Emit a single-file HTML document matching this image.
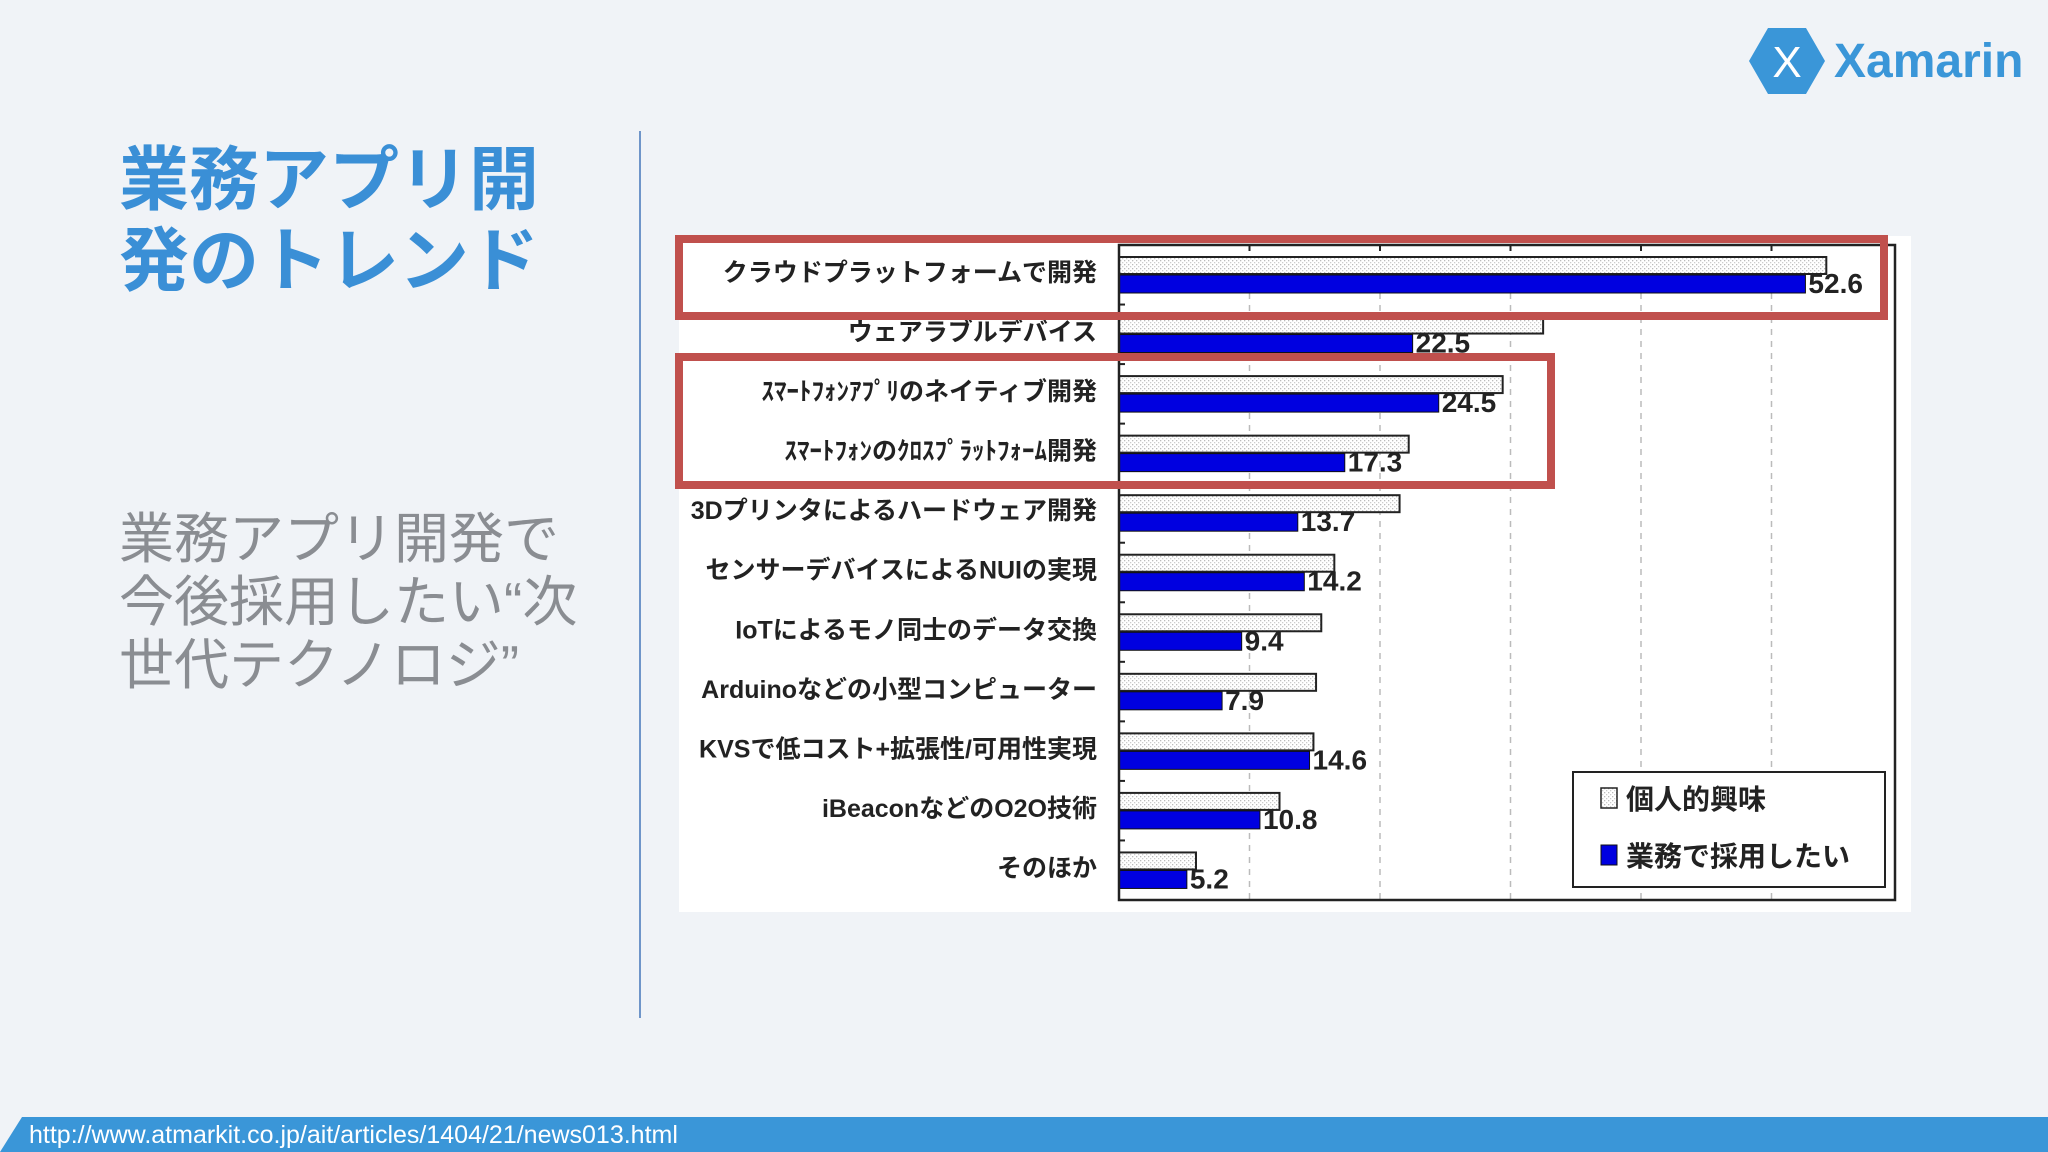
<!DOCTYPE html>
<html><head><meta charset="utf-8"><style>
html,body{margin:0;padding:0;background:#f0f3f7;}
svg{display:block;font-family:"Liberation Sans","Noto Sans CJK JP",sans-serif;}
</style></head><body>
<svg id="s" width="2048" height="1152" viewBox="0 0 2048 1152" xmlns="http://www.w3.org/2000/svg">
<defs>
<pattern id="dots" width="4" height="4" patternUnits="userSpaceOnUse"><rect width="4" height="4" fill="#fff"/><rect x="0" y="0" width="1.3" height="1.3" fill="#bbb"/><rect x="2" y="2" width="1.3" height="1.3" fill="#ccc"/></pattern>
</defs>
<rect width="2048" height="1152" fill="#f0f3f7"/>
<g fill="#3a8fd6" font-weight="bold" font-size="70">
<text x="119" y="204">業務アプリ開</text>
<text x="119" y="285">発のトレンド</text>
</g>
<g fill="#8a8d92" font-size="55">
<text x="119" y="558">業務アプリ開発で</text>
<text x="119" y="621">今後採用したい“次</text>
<text x="119" y="684">世代テクノロジ”</text>
</g>
<line x1="640" y1="131" x2="640" y2="1018" stroke="#6f95c9" stroke-width="2"/>
<g>
<polygon points="1768,28 1806,28 1825,61 1806,94 1768,94 1749,61" fill="#3a96d8"/>
<text x="1787" y="77" text-anchor="middle" fill="#fff" font-size="44">X</text>
<text x="1834" y="77" fill="#3a96d8" font-size="48" font-weight="bold">Xamarin</text>
</g>
<rect x="679" y="236" width="1232" height="676" fill="#fff"/>
<g id="chart"></g>
<rect x="679" y="239" width="1205" height="77" fill="none" stroke="#c0504d" stroke-width="8"/>
<rect x="679" y="357" width="872" height="128" fill="none" stroke="#c0504d" stroke-width="8"/>
<g>
<rect x="1573" y="772" width="312" height="115" fill="#fff" stroke="#222" stroke-width="2"/>
<rect x="1601" y="788" width="16" height="20" fill="url(#dots)" stroke="#222" stroke-width="1.5"/>
<text x="1626" y="809" font-size="28" font-weight="bold" fill="#222">個人的興味</text>
<rect x="1601" y="845" width="16" height="20" fill="#0000e0" stroke="#111" stroke-width="1"/>
<text x="1626" y="866" font-size="28" font-weight="bold" fill="#222">業務で採用したい</text>
</g>
<g>
<polygon points="22,1117 2048,1117 2048,1152 0,1152" fill="#3a96d8"/>
<text x="29" y="1143" font-size="25" fill="#fff">http://www.atmarkit.co.jp/ait/articles/1404/21/news013.html</text>
</g>
</svg>
<script>
const categories=["クラウドプラットフォームで開発","ウェアラブルデバイス","ｽﾏｰﾄﾌｫﾝｱﾌﾟﾘのネイティブ開発","ｽﾏｰﾄﾌｫﾝのｸﾛｽﾌﾟﾗｯﾄﾌｫｰﾑ開発","3Dプリンタによるハードウェア開発","センサーデバイスによるNUIの実現","IoTによるモノ同士のデータ交換","Arduinoなどの小型コンピューター","KVSで低コスト+拡張性/可用性実現","iBeaconなどのO2O技術","そのほか"];
const personalValues=[54.2,32.5,29.4,22.2,21.5,16.5,15.5,15.1,14.9,12.3,5.9];
const businessValues=[52.6,22.5,24.5,17.3,13.7,14.2,9.4,7.9,14.6,10.8,5.2];
const ticks=[0,10,20,30,40,50,60];
const NS="http://www.w3.org/2000/svg";
const g=document.getElementById('chart');
const X0=1119,PX=13.05,TOP=245,BOT=900,RIGHT=1895;
const rowH=(BOT-TOP)/categories.length;
function xs(v){return X0+v*PX;}
function mk(tag,attrs,parent){const e=document.createElementNS(NS,tag);for(const k in attrs)e.setAttribute(k,attrs[k]);(parent||g).appendChild(e);return e;}
ticks.forEach((t,i)=>{
  if(t===0)return;
  const x=xs(t); if(x>RIGHT)return;
  const l=mk('line',{x1:x,y1:TOP,x2:x,y2:BOT,stroke:'#bbb','stroke-width':1.5,'stroke-dasharray':'6,6'});
  
  
});
categories.forEach((c,i)=>{
  const y=TOP+i*rowH;
  const lbl=mk('text',{x:1097,y:y+36,'text-anchor':'end','font-size':25,'font-weight':'bold',fill:'#222'});
  lbl.textContent=c;
  
  
  const p=mk('rect',{x:X0,y:y+12,width:xs(personalValues[i])-X0,height:17,fill:'url(#dots)',stroke:'#222','stroke-width':2});
  
  
  const b=mk('rect',{x:X0,y:y+30,width:xs(businessValues[i])-X0,height:18,fill:'#0000e0',stroke:'#111','stroke-width':1});
  
  
  const v=mk('text',{x:xs(businessValues[i])+3,y:y+48,'font-size':28,'font-weight':'bold',fill:'#222'});
  v.textContent=businessValues[i].toFixed(1);
  
  
  if(i>0){const tk=mk('line',{x1:X0,y1:y,x2:X0+6,y2:y,stroke:'#222','stroke-width':2});
  
  }
});
ticks.forEach(t=>{const x=xs(t);if(x>RIGHT)return;
  const tk=mk('line',{x1:x,y1:TOP,x2:x,y2:TOP+6,stroke:'#222','stroke-width':2});
  
  });
const frame=mk('rect',{x:X0,y:TOP,width:RIGHT-X0,height:BOT-TOP,fill:'none',stroke:'#222','stroke-width':2.5});


</script>
</body></html>
